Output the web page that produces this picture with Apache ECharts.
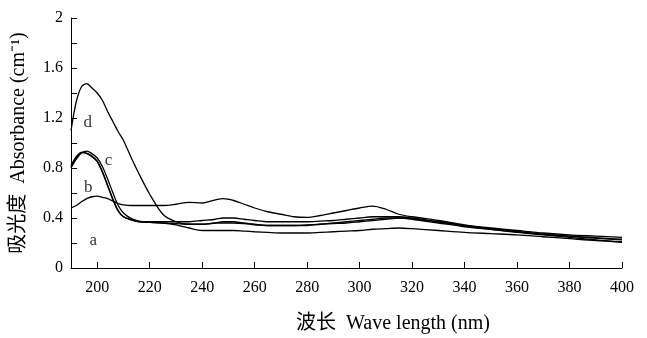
<!DOCTYPE html>
<html>
<head>
<meta charset="utf-8">
<script src="https://cdn.jsdelivr.net/npm/echarts@6/dist/echarts.min.js"></script>
<style>
  html, body { margin: 0; padding: 0; background: #fff; }
  #chart { width: 647px; height: 338px; }
</style>
</head>
<body>
<div id="chart"></div>
<script>
var wavelength = [190,192,194,196,198,200,202,204,206,208,210,213,216,220,225,230,235,240,245,248,252,256,260,265,270,275,280,285,290,295,300,305,310,315,320,330,340,350,360,370,380,390,400];

var curveA = [0.82,0.89,0.925,0.915,0.89,0.85,0.765,0.655,0.545,0.455,0.41,0.385,0.37,0.365,0.36,0.345,0.32,0.30,0.30,0.30,0.30,0.295,0.29,0.285,0.28,0.28,0.28,0.285,0.29,0.295,0.30,0.31,0.315,0.32,0.315,0.30,0.285,0.275,0.265,0.25,0.235,0.22,0.21];
var curveB = [0.81,0.88,0.925,0.92,0.895,0.855,0.77,0.66,0.55,0.46,0.41,0.385,0.37,0.37,0.37,0.37,0.37,0.38,0.39,0.40,0.40,0.39,0.38,0.37,0.37,0.37,0.37,0.375,0.38,0.39,0.40,0.41,0.41,0.41,0.40,0.37,0.34,0.315,0.29,0.27,0.255,0.24,0.225];
var curveC = [0.80,0.87,0.92,0.935,0.915,0.88,0.81,0.71,0.60,0.50,0.44,0.395,0.375,0.365,0.36,0.355,0.35,0.35,0.36,0.36,0.36,0.355,0.345,0.34,0.34,0.34,0.345,0.35,0.355,0.36,0.37,0.38,0.39,0.40,0.395,0.37,0.335,0.31,0.285,0.265,0.245,0.225,0.205];
var curveD = [1.10,1.33,1.45,1.475,1.44,1.40,1.34,1.25,1.17,1.09,1.02,0.88,0.75,0.59,0.43,0.37,0.35,0.35,0.36,0.37,0.37,0.36,0.35,0.34,0.34,0.34,0.34,0.35,0.36,0.37,0.38,0.39,0.40,0.40,0.39,0.36,0.33,0.31,0.29,0.27,0.255,0.24,0.23];
var curveE = [0.48,0.50,0.53,0.555,0.57,0.575,0.565,0.555,0.535,0.515,0.505,0.50,0.50,0.50,0.50,0.51,0.525,0.52,0.545,0.555,0.54,0.51,0.48,0.45,0.43,0.41,0.405,0.42,0.44,0.46,0.48,0.495,0.47,0.43,0.41,0.38,0.345,0.32,0.30,0.28,0.265,0.255,0.245];

var xTicks = [200,220,240,260,280,300,320,340,360,380,400];

var labelNames = ['d','c','b','a'];
var labelX = [196.4,204.3,196.6,198.5];
var labelY = [1.16,0.86,0.64,0.22];

var serif = '"Liberation Serif", "Noto Sans CJK SC", serif';

function pairs(ys) {
  return wavelength.map(function (x, i) { return [x, ys[i]]; });
}

function curve(name, ys) {
  return {
    name: name,
    type: 'line',
    data: pairs(ys),
    showSymbol: false,
    smooth: 0.3,
    silent: true,
    lineStyle: { color: '#000', width: 1.3 }
  };
}

var chart = echarts.init(document.getElementById('chart'));

var option = {
  backgroundColor: '#fff',
  animation: false,
  grid: { left: 71, right: 25, top: 18, bottom: 70, containLabel: false, outerBoundsMode: 'none' },
  xAxis: {
    type: 'value',
    min: 190,
    max: 400,
    name: '波长  Wave length (nm)',
    nameLocation: 'middle',
    nameGap: 46,
    nameTextStyle: { fontFamily: serif, fontSize: 20, color: '#000', padding: [0, 0, 0, 93] },
    axisLine: { lineStyle: { color: '#000', width: 1 } },
    axisTick: { inside: true, length: 6, customValues: xTicks, lineStyle: { color: '#000' } },
    axisLabel: { customValues: xTicks, fontFamily: serif, fontSize: 16, color: '#000', margin: 12 },
    splitLine: { show: false }
  },
  yAxis: {
    type: 'value',
    min: 0,
    max: 2,
    interval: 0.2,
    name: '吸光度  Absorbance (cm⁻¹)',
    nameLocation: 'middle',
    nameGap: 36,
    nameTextStyle: { fontFamily: serif, fontSize: 20, color: '#000', padding: [0, 0, 6, 0] },
    axisLine: { show: true, lineStyle: { color: '#000', width: 1 } },
    axisTick: { inside: true, length: 6, lineStyle: { color: '#000' } },
    axisLabel: {
      fontFamily: serif, fontSize: 16, color: '#000', margin: 8,
      formatter: function (v) {
        var k = Math.round(v * 10);
        return k % 4 === 0 ? String(k / 10) : '';
      }
    },
    splitLine: { show: false }
  },
  series: [
    curve('a', curveA),
    curve('b', curveB),
    curve('c', curveC),
    curve('d', curveD),
    curve('e', curveE),
    {
      name: 'labels',
      type: 'scatter',
      symbolSize: 0,
      silent: true,
      data: labelNames.map(function (n, i) { return { name: n, value: [labelX[i], labelY[i]] }; }),
      label: {
        show: true,
        position: 'inside',
        formatter: '{b}',
        fontFamily: serif,
        fontSize: 17,
        color: '#000'
      }
    }
  ]
};

chart.setOption(option);
</script>
</body>
</html>
